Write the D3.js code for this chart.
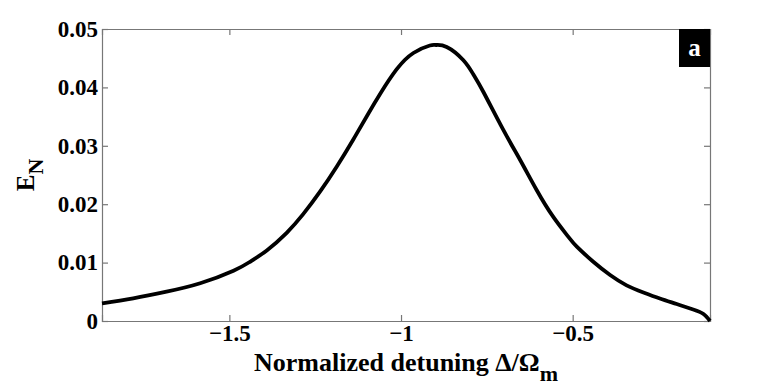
<!DOCTYPE html>
<html>
<head>
<meta charset="utf-8">
<script src="https://cdn.jsdelivr.net/npm/d3@7"></script>
<style>
  body { margin: 0; background: #fff; }
  text { font-family: "Liberation Serif", "Times New Roman", serif; font-weight: bold; }
</style>
</head>
<body>
<div id="chart"></div>
<script>
// detuning (Delta / Omega_m)
var detuning = [-1.871, -1.780, -1.683, -1.585, -1.488, -1.440, -1.391, -1.333, -1.285, -1.236,
                -1.187, -1.139, -1.095, -1.061, -1.013, -0.964, -0.916, -0.898, -0.867, -0.819,
                -0.790, -0.760, -0.702, -0.653, -0.605, -0.557, -0.513, -0.488, -0.440, -0.391,
                -0.343, -0.294, -0.246, -0.197, -0.149, -0.119, -0.100];
// logarithmic negativity E_N
var entanglement = [0.00303, 0.00389, 0.00502, 0.00646, 0.00861, 0.01014, 0.01209, 0.01510, 0.01829, 0.02214,
                    0.02646, 0.03108, 0.03553, 0.03887, 0.04307, 0.04589, 0.04717, 0.04726, 0.04692, 0.04469,
                    0.04229, 0.03921, 0.03271, 0.02757, 0.02243, 0.01786, 0.01444, 0.01272, 0.01015, 0.00788,
                    0.00611, 0.00488, 0.00385, 0.00291, 0.00197, 0.00120, 0.0];
var xTicks = [-1.5, -1, -0.5];
var yTicks = [0, 0.01, 0.02, 0.03, 0.04, 0.05];
var xDomain = [-1.871, -0.1];
var yDomain = [0, 0.05];

var W = 784, H = 388;
var margin = {top: 29, right: 74, bottom: 67, left: 102};
var w = W - margin.left - margin.right;
var h = H - margin.top - margin.bottom;

var svg = d3.select("#chart").append("svg")
  .attr("width", W).attr("height", H);
var g = svg.append("g")
  .attr("transform", "translate(" + margin.left + "," + margin.top + ")");

var x = d3.scaleLinear().domain(xDomain).range([0, w]);
var y = d3.scaleLinear().domain(yDomain).range([h, 0]);

function fmtX(d) { return (d < 0 ? "\u2212" : "") + Math.abs(d); }
function fmtY(d) { return d === 0 ? "0" : d.toFixed(2); }

// axes, ticks pointing inward like matlab
var axisColor = "#777";
var tickLen = 6;

g.append("g").attr("class", "xaxis")
  .attr("transform", "translate(0," + h + ")")
  .call(d3.axisBottom(x).tickValues(xTicks).tickSize(-tickLen).tickPadding(4).tickFormat(fmtX));
g.append("g").attr("class", "xaxis")
  .call(d3.axisTop(x).tickValues(xTicks).tickSize(-tickLen).tickFormat(""));
g.append("g").attr("class", "yaxis")
  .call(d3.axisLeft(y).tickValues(yTicks).tickSize(-tickLen).tickPadding(4).tickFormat(fmtY));
g.append("g").attr("class", "yaxis")
  .attr("transform", "translate(" + w + ",0)")
  .call(d3.axisRight(y).tickValues(yTicks).tickSize(-tickLen).tickFormat(""));

g.selectAll(".xaxis path, .yaxis path, .tick line")
  .attr("stroke", axisColor).attr("stroke-width", 1.2);
g.selectAll(".tick text")
  .attr("fill", "#000")
  .style("font-size", "23px");

// the curve
var line = d3.line()
  .x(function(d, i) { return x(detuning[i]); })
  .y(function(d) { return y(d); })
  .curve(d3.curveNatural);

g.append("path")
  .datum(entanglement)
  .attr("fill", "none")
  .attr("stroke", "#000")
  .attr("stroke-width", 3.8)
  .attr("stroke-linejoin", "round")
  .attr("d", line);

// panel label
g.append("rect")
  .attr("x", w - 31).attr("y", 0)
  .attr("width", 31).attr("height", 38)
  .attr("fill", "#000");
g.append("text")
  .attr("x", w - 15.5).attr("y", 27)
  .attr("text-anchor", "middle")
  .attr("fill", "#fff")
  .style("font-size", "25px")
  .text("a");

// axis titles
var xl = svg.append("text")
  .attr("x", margin.left + w / 2)
  .attr("y", 371)
  .attr("text-anchor", "middle")
  .style("font-size", "26px")
  .text("Normalized detuning \u0394/\u03A9");
xl.append("tspan").attr("dy", 10).style("font-size", "22px").text("m");

var yl = svg.append("text")
  .attr("transform", "translate(34," + (margin.top + h / 2) + ") rotate(-90)")
  .attr("text-anchor", "middle")
  .style("font-size", "25px")
  .text("E");
yl.append("tspan").attr("dy", 9).style("font-size", "22px").text("N");
</script>
</body>
</html>
